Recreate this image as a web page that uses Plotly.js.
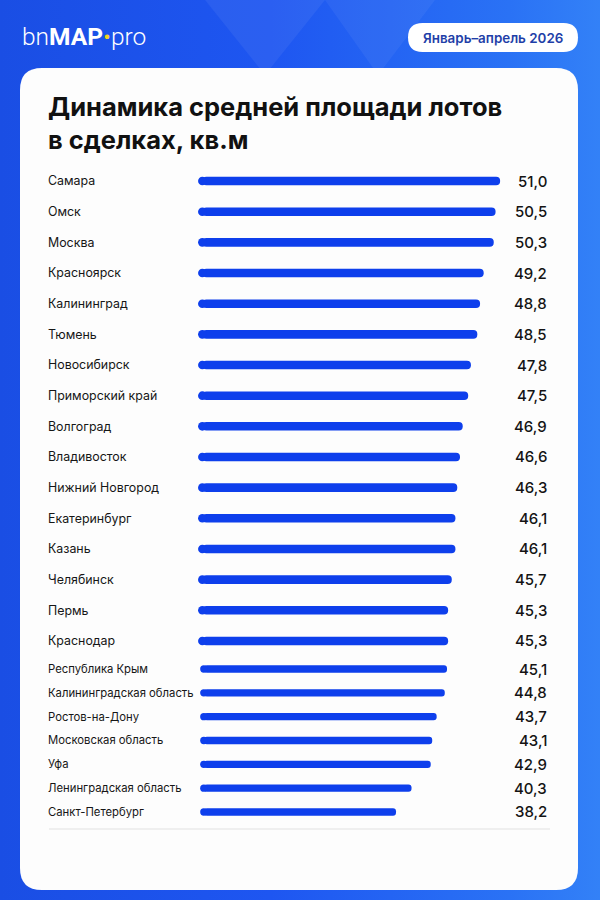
<!DOCTYPE html>
<html>
<head>
<meta charset="utf-8">
<script src="https://cdn.plot.ly/plotly-3.0.1.min.js"></script>
<style>
  html, body { margin: 0; padding: 0; }
  body { width: 600px; height: 900px; overflow: hidden;
         background: linear-gradient(to right, #1a4ee4 0%, #1e56f1 45%, #2a72f5 85%, #3381f7 100%); }
  #chart { width: 600px; height: 900px; }
</style>
</head>
<body>
<div id="chart"></div>
<script>
// ---- data ----
const cities = [
  "Самара", "Омск", "Москва", "Красноярск", "Калининград", "Тюмень",
  "Новосибирск", "Приморский край", "Волгоград", "Владивосток",
  "Нижний Новгород", "Екатеринбург", "Казань", "Челябинск", "Пермь",
  "Краснодар", "Республика Крым", "Калининградская область",
  "Ростов-на-Дону", "Московская область", "Уфа",
  "Ленинградская область", "Санкт-Петербург"
];
const avgArea = [
  51.0, 50.5, 50.3, 49.2, 48.8, 48.5,
  47.8, 47.5, 46.9, 46.6,
  46.3, 46.1, 46.1, 45.7, 45.3,
  45.3, 45.1, 44.8,
  43.7, 43.1, 42.9,
  40.3, 38.2
];
const titleText = "Динамика средней площади лотов<br>в сделках, кв.м";
const periodText = "Январь–апрель 2026";

// ---- layout helpers (pixels -> paper) ----
const W = 600, H = 900;
const X = px => px / W;
const Y = py => 1 - py / H;
function rr(x0, y0, x1, y1, r) {
  const rx = r / W, ry = r / H;
  const a = X(x0), b = X(x1), t = Y(y0), u = Y(y1);
  return `M ${a+rx},${t} L ${b-rx},${t} Q ${b},${t} ${b},${t-ry} L ${b},${u+ry} Q ${b},${u} ${b-rx},${u} ` +
         `L ${a+rx},${u} Q ${a},${u} ${a},${u+ry} L ${a},${t-ry} Q ${a},${t} ${a+rx},${t} Z`;
}

const SPLIT = 16;
const BLUE = "#0e3fec";
const fmt = v => v.toFixed(1).replace(".", ",");

const groups = [
  { cats: cities.slice(0, SPLIT), vals: avgArea.slice(0, SPLIT), xa: "x", ya: "y",
    base: 18.35, barW: 0.28, dot: 8.6 },
  { cats: cities.slice(SPLIT), vals: avgArea.slice(SPLIT), xa: "x2", ya: "y2",
    base: 12.2, barW: 0.31, dot: 7.4 }
];

const traces = [];
const annotations = [];
groups.forEach(g => {
  traces.push({
    type: "bar", orientation: "h",
    y: g.cats, x: g.vals.map(v => v - g.base), base: g.base,
    xaxis: g.xa, yaxis: g.ya, width: g.barW,
    marker: { color: BLUE, cornerradius: "50%", line: { width: 0 } },
    hoverinfo: "skip"
  });
  traces.push({
    type: "scatter", mode: "markers",
    y: g.cats, x: g.cats.map(() => g.base),
    xaxis: g.xa, yaxis: g.ya, cliponaxis: false,
    marker: { color: BLUE, size: g.dot, symbol: "circle", line: { width: 0 } },
    hoverinfo: "skip"
  });
  g.cats.forEach((c, i) => {
    annotations.push({
      xref: "paper", yref: g.ya, x: X(549), y: c, xanchor: "right", yanchor: "middle",
      text: fmt(g.vals[i]), showarrow: false,
      font: { family: "Inter, Roboto, sans-serif", size: 15, color: "#141414", weight: 500 }
    });
  });
});

// logo and period pill
annotations.push({
  xref: "paper", yref: "paper", x: X(20), y: Y(37), xanchor: "left", yanchor: "middle",
  text: "bn<b>MAP</b><span style='color:#f4d31f'>•</span>pro", showarrow: false,
  font: { family: "Roboto, sans-serif", size: 24.5, color: "#ffffff", weight: 300 }
});
annotations.push({
  xref: "paper", yref: "paper", x: X(493), y: Y(38), xanchor: "center", yanchor: "middle",
  text: periodText, showarrow: false,
  font: { family: "Inter, Roboto, sans-serif", size: 13.4, color: "#1f3fa8", weight: 600 }
});

const shapes = [
  // faint background triangles
  { type: "path", xref: "paper", yref: "paper", layer: "below",
    path: `M ${X(205)},${Y(0)} L ${X(325)},${Y(0)} L ${X(265)},${Y(75)} Z`,
    fillcolor: "rgba(255,255,255,0.06)", line: { width: 0 } },
  { type: "path", xref: "paper", yref: "paper", layer: "below",
    path: `M ${X(325)},${Y(0)} L ${X(435)},${Y(0)} L ${X(378)},${Y(75)} Z`,
    fillcolor: "rgba(255,255,255,0.05)", line: { width: 0 } },
  // white card
  { type: "path", xref: "paper", yref: "paper", layer: "below",
    path: rr(20, 68, 578, 890, 22), fillcolor: "#fdfdfd", line: { width: 0 } },
  // period pill
  { type: "path", xref: "paper", yref: "paper", layer: "below",
    path: rr(408, 23, 578, 52, 14.5), fillcolor: "#ffffff", line: { width: 0 } },
  // bottom divider
  { type: "line", xref: "paper", yref: "paper", layer: "below",
    x0: X(49), x1: X(550), y0: Y(829), y1: Y(829),
    line: { color: "#e1e1e1", width: 1.2 } }
];

const xDom = [X(45), X(555)];
const hiddenX = { showgrid: false, zeroline: false, showticklabels: false, showline: false, fixedrange: true };
const catY = (size) => ({
  type: "category", showgrid: false, zeroline: false, showline: false, ticks: "",
  ticklabelposition: "inside", ticklabelstandoff: 0,
  tickfont: { family: "Inter, Roboto, sans-serif", size: size, color: "#161616" }, fixedrange: true
});

const layout = {
  width: W, height: H,
  margin: { l: 0, r: 0, t: 0, b: 0 },
  paper_bgcolor: "rgba(0,0,0,0)", plot_bgcolor: "rgba(0,0,0,0)",
  showlegend: false, barmode: "overlay",
  title: {
    text: titleText, xref: "paper", yref: "paper", x: X(48), xanchor: "left",
    y: Y(116), yanchor: "top",
    font: { family: "Inter, Roboto, sans-serif", size: 25.5, color: "#111111", weight: 700 }
  },
  xaxis: Object.assign({ domain: xDom, anchor: "y", range: [(45 - 35) / 9.12, (555 - 35) / 9.12] }, hiddenX),
  yaxis: Object.assign({ domain: [Y(656.3), Y(165.7)], anchor: "x",
    categoryarray: groups[0].cats, range: [SPLIT - 0.5, -0.5] }, catY(12.4)),
  xaxis2: Object.assign({ domain: xDom, anchor: "y2", range: [(45 - 113.7) / 7.39, (555 - 113.7) / 7.39] }, hiddenX),
  yaxis2: Object.assign({ domain: [Y(823.9), Y(657.1)], anchor: "x2",
    categoryarray: groups[1].cats, range: [cities.length - SPLIT - 0.5, -0.5] }, catY(11.3)),
  shapes: shapes,
  annotations: annotations
};

Plotly.newPlot("chart", traces, layout, { staticPlot: true, displayModeBar: false });
</script>
</body>
</html>
